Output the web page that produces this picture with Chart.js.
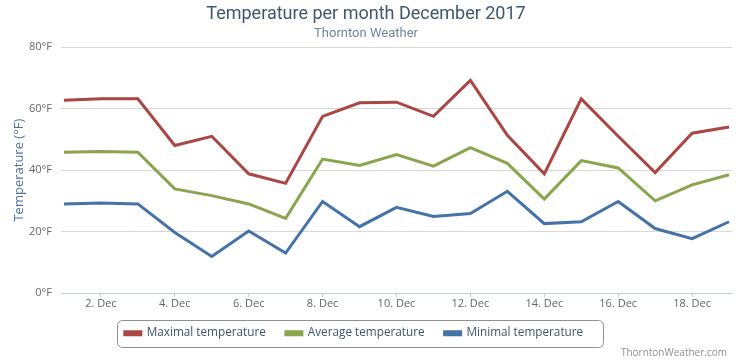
<!DOCTYPE html>
<html>
<head>
<meta charset="utf-8">
<script src="https://cdn.jsdelivr.net/npm/chart.js@4"></script>
<style>
  html, body { margin: 0; padding: 0; background: #fff; }
  #wrap { width: 736px; height: 360px; }
</style>
</head>
<body>
<div id="wrap"><canvas id="myChart" width="736" height="360"></canvas></div>
<script>
"use strict";

// Data
const days = [1, 2, 3, 4, 5, 6, 7, 8, 9, 10, 11, 12, 13, 14, 15, 16, 17, 18, 19];
const maxTemp = [62.7, 63.2, 63.2, 48.0, 51.0, 38.8, 35.7, 57.5, 61.9, 62.1, 57.5, 69.2, 51.3, 38.8, 63.2, 51.0, 39.2, 52.0, 54.0];
const avgTemp = [45.8, 46.1, 45.8, 33.9, 31.7, 29.0, 24.3, 43.6, 41.5, 45.1, 41.3, 47.3, 42.2, 30.6, 43.1, 40.7, 30.0, 35.2, 38.5];
const minTemp = [29.0, 29.3, 29.0, 19.7, 11.9, 20.2, 13.0, 29.8, 21.6, 27.9, 24.9, 25.9, 33.1, 22.6, 23.2, 29.8, 21.0, 17.7, 23.2];
const xTicks = [2, 4, 6, 8, 10, 12, 14, 16, 18];
const yTicks = [0, 20, 40, 60, 80];

const font = "'Open Sans', 'DejaVu Sans', sans-serif";

function toPoints(arr) {
    return days.map((d, i) => ({ x: d, y: arr[i] }));
}

// legend frame + credits, legend nudged up/left a bit
const extras = {
    id: "extras",
    afterLayout(chart) {
        const lg = chart.legend;
        if (lg) {
            lg.top -= 3;
            lg.bottom -= 3;
            lg.left -= 12;
            lg.right -= 12;
        }
    },
    afterDraw(chart) {
        const ctx = chart.ctx;
        const lg = chart.legend;
        const hb = lg.legendHitBoxes;
        if (hb && hb.length) {
            const first = hb[0];
            const last = hb[hb.length - 1];
            const cy = first.top + first.height / 2;
            const x0 = Math.round(first.left - 8) + 0.5;
            const x1 = Math.round(last.left + last.width + 20) + 0.5;
            const y0 = Math.round(cy - 13.5) + 0.5;
            const y1 = y0 + 27;
            ctx.save();
            ctx.strokeStyle = "#909090";
            ctx.lineWidth = 1;
            ctx.beginPath();
            ctx.roundRect(x0, y0, x1 - x0, y1 - y0, 5);
            ctx.stroke();
            ctx.restore();
        }
        ctx.save();
        ctx.font = "10px " + font;
        ctx.fillStyle = "#909090";
        ctx.textAlign = "right";
        ctx.textBaseline = "alphabetic";
        ctx.fillText("ThorntonWeather.com", 727, 356);
        ctx.restore();
    },
};

const data = {
    datasets: [
        {
            label: "Maximal temperature",
            data: toPoints(maxTemp),
            borderColor: "#AA4643",
            backgroundColor: "#AA4643",
        },
        {
            label: "Average temperature",
            data: toPoints(avgTemp),
            borderColor: "#89A54E",
            backgroundColor: "#89A54E",
        },
        {
            label: "Minimal temperature",
            data: toPoints(minTemp),
            borderColor: "#4572A7",
            backgroundColor: "#4572A7",
        },
    ],
};

const config = {
    type: "line",
    data: data,
    options: {
        responsive: false,
        animation: false,
        devicePixelRatio: 1,
        layout: { padding: { left: 0, right: 4, top: 0, bottom: 8 } },
        elements: {
            line: { borderWidth: 3, tension: 0 },
            point: { radius: 0, hoverRadius: 0 },
        },
        plugins: {
            tooltip: { enabled: false },
            title: {
                display: true,
                text: "Temperature per month December 2017",
                color: "#3E576F",
                font: { family: "'Liberation Sans Narrow', 'Roboto', sans-serif", size: 18, weight: "normal" },
                padding: { top: 4, bottom: 0 },
            },
            subtitle: {
                display: true,
                text: "Thornton Weather",
                color: "#6D869F",
                font: { family: "'Liberation Sans Narrow', 'Roboto', sans-serif", size: 13, weight: "normal" },
                padding: { top: 0, bottom: 6 },
            },
            legend: {
                position: "bottom",
                labels: {
                    boxWidth: 16,
                    boxHeight: 3,
                    padding: 20,
                    color: "#3E576F",
                    font: { family: font, size: 11.75 },
                },
            },
        },
        scales: {
            x: {
                type: "linear",
                min: 0.92,
                max: 19.08,
                afterBuildTicks(axis) {
                    axis.ticks = xTicks.map((v) => ({ value: v }));
                },
                ticks: {
                    callback: (v) => v + ". Dec",
                    color: "#666666",
                    font: { family: font, size: 11 },
                    padding: 0,
                    maxRotation: 0,
                },
                grid: {
                    drawOnChartArea: false,
                    drawTicks: true,
                    tickLength: 4,
                    color: "#C0D0E0",
                },
                border: { color: "#C0D0E0" },
            },
            y: {
                min: 0,
                max: 80,
                afterBuildTicks(axis) {
                    axis.ticks = yTicks.map((v) => ({ value: v }));
                },
                afterFit(axis) {
                    axis.width = 61;
                },
                ticks: {
                    callback: (v) => v + "°F",
                    color: "#666666",
                    font: { family: font, size: 11 },
                    padding: 9,
                },
                grid: {
                    color: (c) => (c.tick && c.tick.value === 0 ? "rgba(0,0,0,0)" : "#D8D8D8"),
                    drawTicks: false,
                },
                border: { display: false },
                title: {
                    display: true,
                    text: "Temperature (°F)",
                    color: "#4D759E",
                    font: { family: font, size: 13, weight: "normal" },
                    padding: { top: 11, bottom: 4 },
                },
            },
        },
    },
    plugins: [extras],
};

const myChart = new Chart(document.getElementById("myChart"), config);
</script>
</body>
</html>
